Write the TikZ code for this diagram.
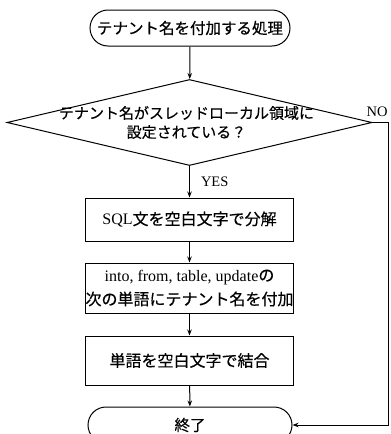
\documentclass[tikz,border=0pt]{standalone}
\usepackage{fontspec}
\setmainfont{Liberation Serif}
\newfontfamily\jp[FakeBold=0.4]{Noto Sans CJK JP}
\usetikzlibrary{shapes.geometric,shapes.misc,arrows.meta}
\begin{document}
\begin{tikzpicture}[x=1pt, y=-1pt, line width=1pt,
    >={Stealth[length=6pt,width=4.5pt]},
    term/.style={draw, rounded rectangle, minimum width=200pt, minimum height=36pt,
      inner sep=0pt, font=\jp\fontsize{15.5}{18}\selectfont},
    proc/.style={draw, rectangle, minimum width=208pt, inner sep=0pt, align=center,
      font=\fontsize{16}{24}\selectfont},
    decide/.style={draw, diamond, minimum width=365pt, minimum height=86pt, inner sep=0pt},
    tag/.style={font=\fontsize{14.5}{16}\selectfont, inner sep=2pt}]
        \useasboundingbox (0,0) rectangle (391,434);

        \node[term] (start) at (190,28) {テナント名を付加する処理};
        \node[decide, label={[align=center, font=\jp\fontsize{15}{19}\selectfont, xshift=-3pt]center:テナント名がスレッドローカル領域に\\設定されている？}] (check) at (189.5,122.5) {};
        \node[proc, minimum height=43pt] (split) at (189.5,219.5) {SQL{\jp 文を空白文字で分解}};
        \node[proc, minimum height=50pt] (prefix) at (189.5,288) {into, from, table, update{\jp の}\\{\jp 次の単語にテナント名を付加}};
        \node[proc, minimum height=49pt] (join) at (189.5,360.5) {\jp 単語を空白文字で結合};
        \node[term, minimum width=204pt] (finish) at (190,425) {終了};
        \coordinate (noturn) at (388,122.5);

        \draw[->] (start) -- (check);
        \draw[->] (check) -- (split) node[midway, right, xshift=9pt, tag] {YES};
        \draw[->] (split) -- (prefix);
        \draw[->] (prefix) -- (join);
        \draw[->] (join) -- (finish);
        \draw[->] (check.east) -- (noturn) node[above left, tag, xshift=2pt, yshift=3pt] {NO} |- (finish.east);

    \end{tikzpicture}
\end{document}
